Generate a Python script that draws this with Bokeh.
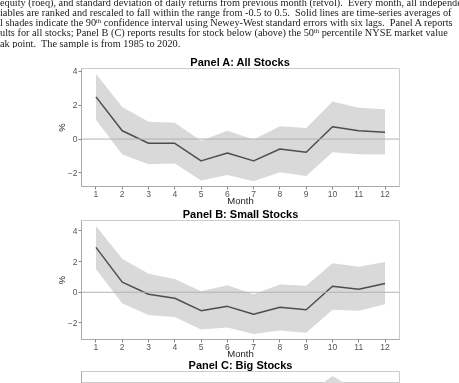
import numpy as np
from bokeh.plotting import figure
from bokeh.models import Div, Range1d, Span, FixedTicker, ColumnDataSource
from bokeh.layouts import column
from bokeh.embed import file_html
from bokeh.resources import INLINE

# ---- data ----
months = list(range(1, 13))
x_ticks = list(range(1, 13))
y_ticks = [-2, 0, 2, 4]

a_mean = [2.50, 0.49, -0.25, -0.25, -1.29, -0.82, -1.29, -0.59, -0.78, 0.73, 0.49, 0.41]
a_upper = [3.86, 1.90, 1.02, 0.96, -0.10, 0.49, -0.02, 0.76, 0.65, 2.22, 1.86, 1.76]
a_lower = [1.14, -0.92, -1.49, -1.45, -2.45, -2.12, -2.49, -1.96, -2.18, -0.78, -0.90, -0.92]

b_mean = [2.93, 0.66, -0.13, -0.39, -1.20, -0.92, -1.44, -0.98, -1.14, 0.39, 0.20, 0.57]
b_upper = [4.33, 2.19, 1.20, 0.87, 0.07, 0.46, -0.13, 0.50, 0.42, 1.90, 1.66, 1.97]
b_lower = [1.50, -0.72, -1.49, -1.62, -2.43, -2.30, -2.73, -2.49, -2.64, -1.14, -1.20, -0.79]

# Panel C is cut off by the page edge: only the top of the band near month 10 shows
c_mean = [1.30, 0.30, -0.40, -0.10, -1.10, -0.60, -1.00, -0.20, -0.30, 1.10, 0.80, 0.30]
c_upper = [2.40, 1.60, 0.80, 1.10, 0.10, 0.60, 0.20, 1.00, 1.90, 3.00, 2.10, 1.60]
c_lower = [0.20, -1.00, -1.60, -1.30, -2.30, -1.80, -2.20, -1.40, -1.50, -0.80, -0.70, -1.00]

titles = ["Panel A: All Stocks", "Panel B: Small Stocks", "Panel C: Big Stocks"]

SUP = '<sup style="font-size:6.5px;line-height:0;vertical-align:3.5px;">th</sup>'
caption_lines = [
    "equity (roeq), and standard deviation of daily returns from previous month (retvol).&nbsp; Every month, all independent",
    "iables are ranked and rescaled to fall within the range from -0.5 to 0.5.&nbsp; Solid lines are time-series averages of",
    f"l shades indicate the 90{SUP} confidence interval using Newey-West standard errors with six lags.&nbsp; Panel A reports",
    f"ults for all stocks; Panel B (C) reports results for stock below (above) the 50{SUP} percentile NYSE market value",
    "ak point.&nbsp; The sample is from 1985 to 2020.",
]

BAND = "#d9d9d9"
LINE = "#4d4d4d"
FONT = "Liberation Sans"


def panel(title, mean, upper, lower, height, top, bottom, show_x=True, yrange=None, tstand=1):
    lo = min(lower)
    hi = max(upper)
    pad = (hi - lo) * 0.05
    if yrange is None:
        yrange = (lo - pad, hi + pad)
    p = figure(width=459, height=height, output_backend="svg", toolbar_location=None,
               x_range=Range1d(0.45, 12.55), y_range=Range1d(*yrange),
               min_border_left=81, min_border_right=60, min_border_top=top,
               min_border_bottom=bottom, title=title)
    p.title.align = "center"
    p.title.text_font = FONT
    p.title.text_font_size = "11px"
    p.title.text_font_style = "bold"
    p.title.text_color = "#000000"
    p.title.standoff = tstand
    p.title.offset = 0
    src = ColumnDataSource(dict(x=months, y=mean, u=upper, l=lower))
    p.varea(x="x", y1="l", y2="u", source=src, fill_color=BAND, fill_alpha=1.0)
    p.add_layout(Span(location=0, dimension="width", line_color="#b3b3b3", line_width=1))
    p.line(x="x", y="y", source=src, line_color=LINE, line_width=1.5)
    p.xgrid.visible = False
    p.ygrid.visible = False
    p.outline_line_color = "#cccccc"
    p.outline_line_width = 1
    p.background_fill_color = "white"
    p.border_fill_color = None
    p.xaxis.ticker = FixedTicker(ticks=x_ticks)
    p.yaxis.ticker = FixedTicker(ticks=y_ticks)
    for ax in (p.xaxis[0], p.yaxis[0]):
        ax.axis_line_color = "#aaaaaa"
        ax.major_tick_line_color = "#888888"
        ax.major_tick_out = 3
        ax.major_tick_in = 0
        ax.minor_tick_line_color = None
        ax.major_label_text_font = FONT
        ax.major_label_text_font_size = "8.5px"
        ax.major_label_text_color = "#555555"
        ax.major_label_standoff = 1
        ax.axis_label_text_font = FONT
        ax.axis_label_text_font_size = "9.5px"
        ax.axis_label_text_font_style = "normal"
        ax.axis_label_text_color = "#222222"
    p.xaxis.axis_label_standoff = -5
    p.yaxis.axis_label_standoff = -2
    p.yaxis.axis_label = "%"
    p.xaxis.axis_label = "Month"
    if not show_x:
        p.xaxis.visible = False
    return p


html = "".join(
    f'<div style="white-space:nowrap;height:10.3px;line-height:10.3px;">{t}</div>' for t in caption_lines
)
cap = Div(text=f'<div style="margin-top:-2.5px;">{html}</div>', width=459, height=48,
          margin=(0, 0, 0, 0),
          styles={"overflow": "hidden", "font-family": "Liberation Serif", "font-size": "10.3px",
                  "color": "#1a1a1a"})

pa = panel(titles[0], a_mean, a_upper, a_lower, height=168, top=20, bottom=30, tstand=1)
pa.margin = (0, 0, 0, 0)
pb = panel(titles[1], b_mean, b_upper, b_lower, height=169, top=20, bottom=30, tstand=2)
pb.margin = (-16, 0, 0, 0)
c_hi = max(c_upper)
c_pad = (c_hi - min(c_lower)) * 0.05
pc = panel(titles[2], c_mean, c_upper, c_lower, height=32, top=20, bottom=0, show_x=False,
           yrange=(c_hi + c_pad - 0.7, c_hi + c_pad), tstand=2)
pc.margin = (-18, 0, 0, 0)
pc.yaxis.major_label_text_color = None
pc.yaxis.axis_label = None

layout = column(cap, pa, pb, pc, spacing=0,
                styles={"position": "fixed", "top": "0px", "left": "0px"})

open("out.html", "w").write(file_html(layout, INLINE))
